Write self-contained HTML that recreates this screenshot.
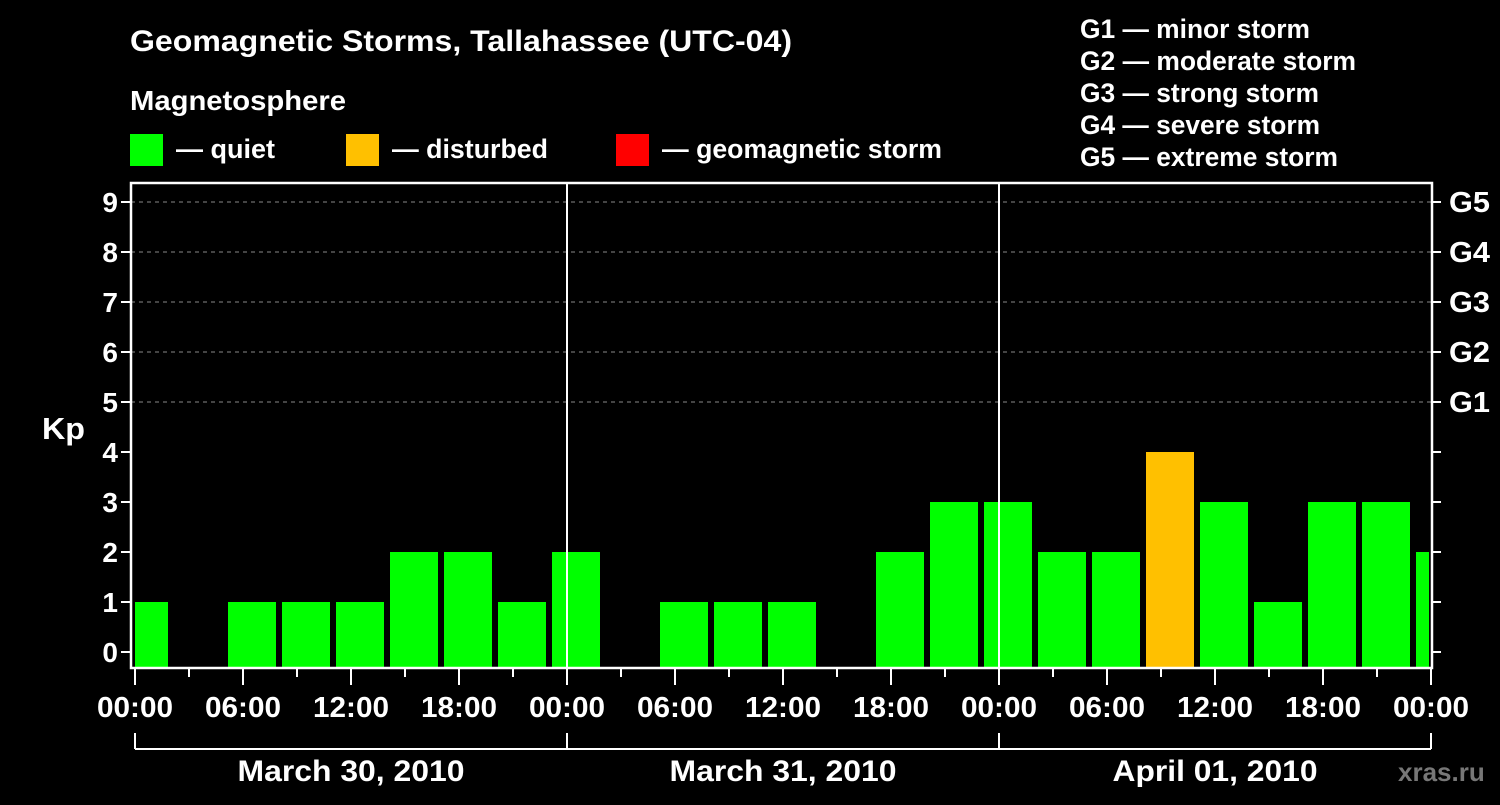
<!DOCTYPE html>
<html><head><meta charset="utf-8"><style>
body{margin:0;background:#000;width:1500px;height:800px;overflow:hidden}
svg text{font-family:"Liberation Sans",sans-serif;font-weight:bold;fill:#fff}
</style></head><body>
<svg id="c" width="1500" height="800">
<text x="130" y="51" font-size="30" textLength="662" lengthAdjust="spacingAndGlyphs">Geomagnetic Storms, Tallahassee (UTC-04)</text>
<text x="130" y="110" font-size="28" textLength="216" lengthAdjust="spacingAndGlyphs">Magnetosphere</text>
<rect x="130" y="134" width="33" height="32" fill="#00ff00"/>
<text x="176" y="158" font-size="27" textLength="99" lengthAdjust="spacingAndGlyphs">— quiet</text>
<rect x="346" y="134" width="33" height="32" fill="#ffc000"/>
<text x="392" y="158" font-size="27" textLength="156" lengthAdjust="spacingAndGlyphs">— disturbed</text>
<rect x="616" y="134" width="33" height="32" fill="#ff0000"/>
<text x="662" y="158" font-size="27" textLength="280" lengthAdjust="spacingAndGlyphs">— geomagnetic storm</text>
<g font-size="27">
<text x="1080" y="38" textLength="230" lengthAdjust="spacingAndGlyphs">G1 — minor storm</text>
<text x="1080" y="70" textLength="276" lengthAdjust="spacingAndGlyphs">G2 — moderate storm</text>
<text x="1080" y="102" textLength="239" lengthAdjust="spacingAndGlyphs">G3 — strong storm</text>
<text x="1080" y="134" textLength="240" lengthAdjust="spacingAndGlyphs">G4 — severe storm</text>
<text x="1080" y="166" textLength="258" lengthAdjust="spacingAndGlyphs">G5 — extreme storm</text>
</g>
<text x="42" y="439" font-size="31" textLength="43" lengthAdjust="spacingAndGlyphs">Kp</text>
<text x="1398" y="781" font-size="26" style="fill:#777">xras.ru</text>
<g id="g"></g>
</svg>
<script>
const kpValues=[1,0,1,1,1,2,2,1,2,0,1,1,1,0,2,3,3,2,2,4,3,1,3,3,2];
const yTicks=[0,1,2,3,4,5,6,7,8,9];
const gLabels=["G1","G2","G3","G4","G5"];
const xTickLabels=["00:00","06:00","12:00","18:00","00:00","06:00","12:00","18:00","00:00","06:00","12:00","18:00","00:00"];
const dayLabels=["March 30, 2010","March 31, 2010","April 01, 2010"];
const NS="http://www.w3.org/2000/svg",g=document.getElementById('g');
const L=131,R=1432,T=183,B=668,X0=135,HR=18;
const y=v=>652-v*50, x=h=>X0+h*HR;
function mk(t,a){const e=document.createElementNS(NS,t);for(const k in a)e.setAttribute(k,a[k]);g.appendChild(e);return e;}
yTicks.forEach(v=>{if(v>=5){const l=mk('line',{x1:L,x2:R,y1:y(v),y2:y(v),stroke:'#888','stroke-dasharray':'4,4','stroke-width':1});

}});
kpValues.forEach((v,i)=>{if(v<=0)return;let x1=x(i*3)-15,x2=x1+48;x1=Math.max(x1,L+4);x2=Math.min(x2,R-3);
const r=mk('rect',{x:x1,y:y(v),width:x2-x1,height:B-y(v),fill:v>=5?'#ff0000':v>=4?'#ffc000':'#00ff00'});

});
const f=mk('rect',{x:L,y:T,width:R-L,height:B-T,fill:'none',stroke:'#fff','stroke-width':2.5});


[24,48].forEach(h=>{const l=mk('line',{x1:x(h),x2:x(h),y1:T,y2:B,stroke:'#fff','stroke-width':2});

});
yTicks.forEach(v=>{mk('line',{x1:L-10,x2:L,y1:y(v),y2:y(v),stroke:'#fff','stroke-width':2});
mk('line',{x1:R,x2:R+9,y1:y(v),y2:y(v),stroke:'#fff','stroke-width':2});
const t=mk('text',{x:118,y:y(v)+10,'text-anchor':'end','font-size':28});t.textContent=v;

});
gLabels.forEach((s,i)=>{const t=mk('text',{x:1449,y:y(i+5)+10,'font-size':29,textLength:41,lengthAdjust:'spacingAndGlyphs'});t.textContent=s;

});
for(let h=0;h<=72;h+=3){const maj=h%6==0;mk('line',{x1:x(h),x2:x(h),y1:B,y2:B+(maj?17:9),stroke:'#fff','stroke-width':2});}
xTickLabels.forEach((s,i)=>{const t=mk('text',{x:x(i*6),y:717,'text-anchor':'middle','font-size':29,textLength:76,lengthAdjust:'spacingAndGlyphs'});t.textContent=s;

});
mk('line',{x1:x(0),x2:x(72),y1:749,y2:749,stroke:'#fff','stroke-width':2});
[0,24,48,72].forEach(h=>mk('line',{x1:x(h),x2:x(h),y1:733,y2:749,stroke:'#fff','stroke-width':2}));
const dw=[227,227,205];
dayLabels.forEach((s,i)=>{const t=mk('text',{x:x(i*24+12),y:781,'text-anchor':'middle','font-size':30,textLength:dw[i],lengthAdjust:'spacingAndGlyphs'});t.textContent=s;

});
</script>
</body></html>
